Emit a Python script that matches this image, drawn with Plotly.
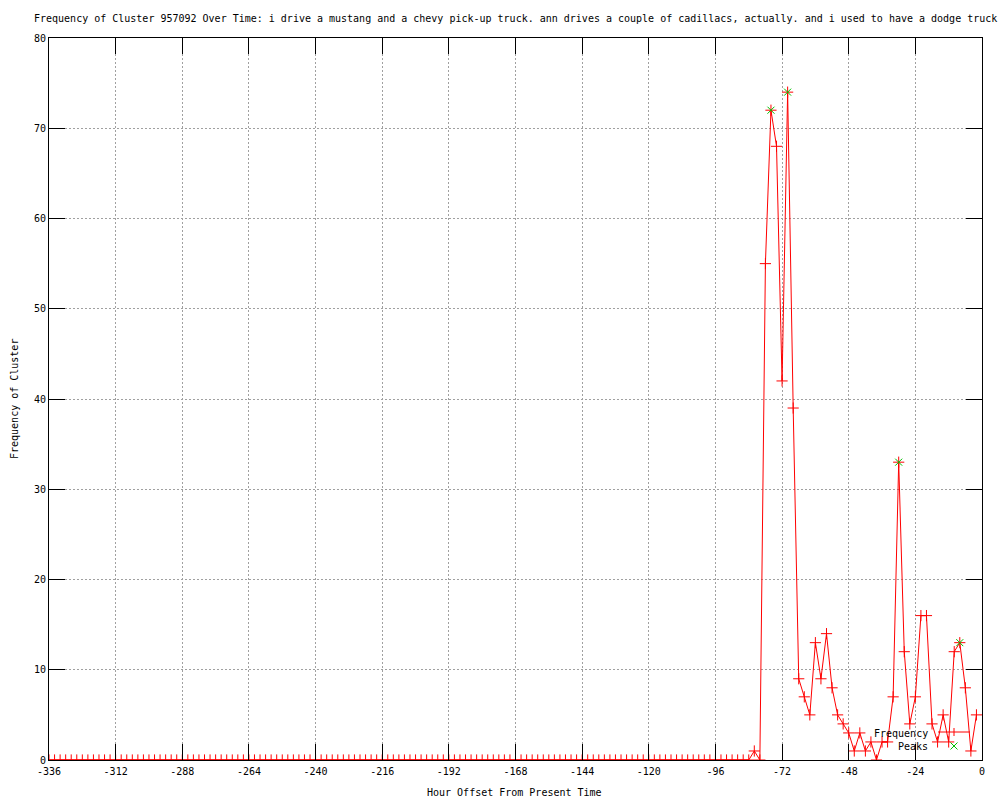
import plotly.graph_objects as go

# Hour offsets (every 2 hours from -336 to -2)
hours = list(range(-336, 0, 2))

# Non-zero frequency values by hour offset (all other hours are 0)
active_hours = [-82, -80, -78, -76, -74, -72, -70, -68, -66, -64, -62, -60, -58, -56,
                -54, -52, -50, -48, -46, -44, -42, -40, -38, -36, -34, -32, -30, -28,
                -26, -24, -22, -20, -18, -16, -14, -12, -10, -8, -6, -4, -2]
active_values = [1, 0, 55, 72, 68, 42, 74, 39, 9, 7, 5, 13, 9, 14,
                 8, 5, 4, 3, 1, 3, 1, 2, 0, 2, 2, 7, 33, 12,
                 4, 7, 16, 16, 4, 2, 5, 2, 12, 13, 8, 1, 5]
lookup = dict(zip(active_hours, active_values))
freq = [lookup.get(h, 0) for h in hours]

peak_hours = [-76, -70, -30, -8]
peak_values = [72, 74, 33, 13]

x_ticks = list(range(-336, 1, 24))
y_ticks = list(range(0, 81, 10))

title = ("Frequency of Cluster 957092 Over Time: i drive a mustang and a chevy pick-up truck. "
         "ann drives a couple of cadillacs, actually. and i used to have a dodge truck")
x_title = "Hour Offset From Present Time"
y_title = "Frequency of Cluster"

FONT = dict(family="DejaVu Sans Mono", size=10, color="black")
RED = "rgb(255,0,0)"
GREEN = "rgb(0,192,0)"

fig = go.Figure()
fig.add_trace(go.Scatter(
    x=hours, y=freq, mode="lines+markers", name="Frequency",
    line=dict(color=RED, width=1),
    marker=dict(symbol="cross-thin", size=8, line=dict(color=RED, width=1), color=RED),
    showlegend=False,
))
fig.add_trace(go.Scatter(
    x=peak_hours, y=peak_values, mode="markers", name="Peaks",
    marker=dict(symbol="x-thin", size=7, line=dict(color=GREEN, width=1), color=GREEN),
    showlegend=False,
))

axis_common = dict(
    showline=True, linecolor="black", linewidth=1, mirror="ticks",
    ticks="inside", ticklen=16, tickcolor="black", tickwidth=1,
    showgrid=True, gridcolor="#a0a0a0", gridwidth=1, griddash="2px,2px",
    zeroline=False, tickfont=FONT, automargin=False,
)

fig.update_layout(
    width=1000, height=800,
    margin=dict(l=49, r=18, t=38, b=40),
    paper_bgcolor="white", plot_bgcolor="white",
    font=FONT,
    xaxis=dict(range=[-336, 0], tickvals=x_ticks, ticktext=[str(v) for v in x_ticks],
               ticklabelstandoff=2, **axis_common),
    yaxis=dict(range=[0, 80], tickvals=y_ticks, ticktext=[str(v) for v in y_ticks],
               **axis_common),
    showlegend=False,
)

def px(xp):
    return (xp - 49) / 933

def py(yp):
    return (760 - yp) / 722

fig.add_annotation(text=title, xref="paper", yref="paper", x=0.5, y=py(18),
                   xanchor="center", yanchor="middle", showarrow=False, font=FONT)
fig.add_annotation(text=x_title, xref="paper", yref="paper", x=px(514), y=py(793),
                   xanchor="center", yanchor="middle", showarrow=False, font=FONT)
fig.add_annotation(text=y_title, xref="paper", yref="paper", x=px(14), y=0.5, textangle=-90,
                   xanchor="center", yanchor="middle", showarrow=False, font=FONT)

# Legend (gnuplot style: right-justified text, sample to the right)
fig.add_annotation(text="Frequency", xref="paper", yref="paper", x=px(930), y=py(733),
                   xanchor="right", yanchor="middle", showarrow=False, font=FONT)
fig.add_annotation(text="Peaks", xref="paper", yref="paper", x=px(930), y=py(746),
                   xanchor="right", yanchor="middle", showarrow=False, font=FONT)

# Frequency sample: line with + in middle
fig.add_shape(type="line", xref="paper", yref="paper", x0=px(938), x1=px(970), y0=py(732), y1=py(732),
              line=dict(color=RED, width=1))
fig.add_shape(type="line", xref="paper", yref="paper", x0=px(954), x1=px(954), y0=py(728), y1=py(736),
              line=dict(color=RED, width=1))
# Peaks sample: green x
fig.add_shape(type="line", xref="paper", yref="paper", x0=px(950.5), x1=px(957.5), y0=py(742.5), y1=py(749.5),
              line=dict(color=GREEN, width=1))
fig.add_shape(type="line", xref="paper", yref="paper", x0=px(950.5), x1=px(957.5), y0=py(749.5), y1=py(742.5),
              line=dict(color=GREEN, width=1))

fig.write_html("out.html", config={"displayModeBar": False},
               post_script="document.body.style.margin='0';")
